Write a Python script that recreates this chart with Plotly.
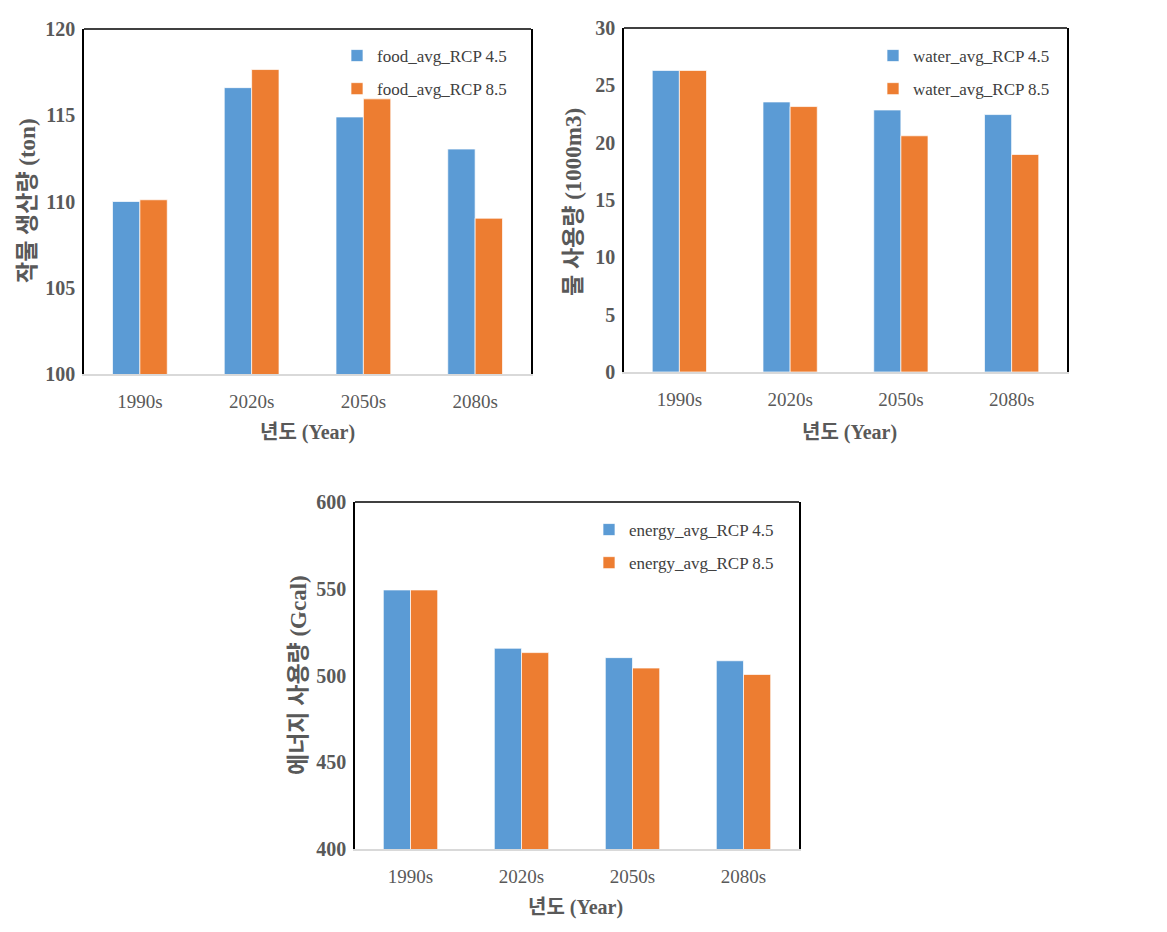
import plotly.graph_objects as go

decades = ["1990s", "2020s", "2050s", "2080s"]

food_rcp45 = [110.0, 116.6, 114.9, 113.04]
food_rcp85 = [110.1, 117.65, 115.95, 109.03]
water_rcp45 = [26.3, 23.55, 22.85, 22.45]
water_rcp85 = [26.3, 23.15, 20.6, 18.97]
energy_rcp45 = [549.3, 515.7, 510.3, 508.5]
energy_rcp85 = [549.3, 513.2, 504.3, 500.6]

food_names = ["food_avg_RCP 4.5", "food_avg_RCP 8.5"]
water_names = ["water_avg_RCP 4.5", "water_avg_RCP 8.5"]
energy_names = ["energy_avg_RCP 4.5", "energy_avg_RCP 8.5"]

y_titles = ["작물 생산량 (ton)", "물 사용량 (1000m3)", "에너지 사용량 (Gcal)"]
x_title = "년도 (Year)"

BLUE = "#5B9BD5"
ORANGE = "#ED7D31"
W, H = 1167, 932
SERIF = "Liberation Serif, 'Noto Sans CJK KR', serif"
TITLEFONT = "Liberation Serif, 'Noto Sans CJK KR', serif"

# panel geometry in pixels: left, right, top, bottom
panels = [
    dict(box=(84, 531, 29, 374), yrange=(100, 120), dtick=5,
         s45=food_rcp45, s85=food_rcp85, names=food_names, leg=(352, 38),
         ytitle=(28, 201), xtitle=(307, 432)),
    dict(box=(624, 1067, 28, 372), yrange=(0, 30), dtick=5,
         s45=water_rcp45, s85=water_rcp85, names=water_names, leg=(888, 38),
         ytitle=(573, 202), xtitle=(849, 432)),
    dict(box=(355, 799, 502, 849), yrange=(400, 600), dtick=50,
         s45=energy_rcp45, s85=energy_rcp85, names=energy_names, leg=(604, 512),
         ytitle=(298, 675), xtitle=(575, 907)),
]

fig = go.Figure()
layout = {}
shapes = []
annotations = []

for i, p in enumerate(panels):
    n = "" if i == 0 else str(i + 1)
    xa, ya = "x" + n, "y" + n
    lg = "legend" + n
    l, r, t, b = p["box"]
    for vals, name, col in ((p["s45"], p["names"][0], BLUE), (p["s85"], p["names"][1], ORANGE)):
        fig.add_trace(go.Bar(
            x=decades, y=vals, name=name, xaxis=xa, yaxis=ya, legend=lg,
            legendgroup=name,
            marker=dict(color=col, line=dict(color="rgba(255,255,255,0.7)", width=1)),
        ))
    layout["xaxis" + n] = dict(
        domain=[l / W, r / W], anchor=ya, type="category", automargin=False,
        showline=True, linecolor="#D9D9D9", linewidth=1.5,
        showgrid=False, ticks="", ticklabelstandoff=9,
        tickfont=dict(family=SERIF, size=19, color="#595959"),
    )
    layout["yaxis" + n] = dict(
        domain=[1 - b / H, 1 - t / H], anchor=xa, automargin=False,
        range=list(p["yrange"]), dtick=p["dtick"], tick0=p["yrange"][0],
        showline=True, linecolor="black", linewidth=1.5, mirror=True,
        showgrid=False, zeroline=False, ticks="", ticklabelstandoff=3,
        tickfont=dict(family=SERIF, size=20, color="#595959", weight="bold"),
    )
    shapes.append(dict(type="line", xref=xa + " domain", yref=ya + " domain",
                       x0=0, x1=1, y0=1, y1=1, line=dict(color="black", width=1.5)))
    lx, ly = p["leg"]
    layout[lg] = dict(
        x=(lx - 15) / W, y=1 - ly / H, xanchor="left", yanchor="top",
        bgcolor="rgba(0,0,0,0)", traceorder="grouped", tracegroupgap=8,
        font=dict(family=SERIF, size=17, color="#404040"),
    )
    tx, ty = p["ytitle"]
    annotations.append(dict(
        text=y_titles[i], xref="paper", yref="paper", x=tx / W, y=1 - ty / H,
        xanchor="center", yanchor="middle", textangle=-90, showarrow=False,
        font=dict(family=TITLEFONT, size=23, color="#595959", weight="bold"),
    ))
    tx, ty = p["xtitle"]
    annotations.append(dict(
        text=x_title, xref="paper", yref="paper", x=tx / W, y=1 - ty / H,
        xanchor="center", yanchor="middle", showarrow=False,
        font=dict(family=TITLEFONT, size=20, color="#595959", weight="bold"),
    ))

fig.update_layout(
    width=W, height=H,
    margin=dict(l=0, r=0, t=0, b=0, pad=0, autoexpand=False),
    paper_bgcolor="white", plot_bgcolor="white",
    barmode="group", bargap=0.51, bargroupgap=0.0,
    showlegend=True, shapes=shapes, annotations=annotations,
    **layout,
)

fig.write_html("out.html")
